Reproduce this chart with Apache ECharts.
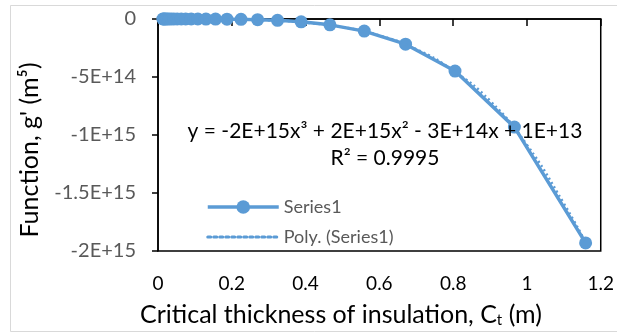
<!DOCTYPE html>
<html>
<head>
<meta charset="utf-8">
<script src="https://cdn.jsdelivr.net/npm/echarts@6/dist/echarts.min.js"></script>
<style>
html,body{margin:0;padding:0;background:#fff;}
#chart{width:617px;height:336px;}
</style>
</head>
<body>
<div id="chart"></div>
<script>
// Critical thickness of insulation, Ct (m)
var thickness = [0.013, 0.015, 0.018, 0.021, 0.025, 0.030, 0.036, 0.043, 0.052, 0.063, 0.075, 0.090, 0.108, 0.130, 0.156, 0.187, 0.225, 0.270, 0.324, 0.388, 0.466, 0.559, 0.671, 0.805, 0.966, 1.159];
// Function g' (m^5)
var gValues = [-3.1e7, -5.4e7, -1.1e8, -2.1e8, -4.2e8, -8.7e8, -1.8e9, -3.7e9, -7.8e9, -1.7e10, -3.4e10, -7.0e10, -1.46e11, -3.1e11, -6.3e11, -1.31e12, -2.7e12, -5.7e12, -1.18e13, -2.42e13, -5.05e13, -1.045e14, -2.17e14, -4.49e14, -9.32e14, -1.93e15];
// Polynomial trendline
var trendX = [0, 0.1, 0.2, 0.3, 0.4, 0.5, 0.6, 0.7, 0.8, 0.9, 1.0, 1.1, 1.159];
var trendY = [1e13, -2e12, -4e12, -1e13, -3.2e13, -7e13, -1.42e14, -2.6e14, -4.45e14, -7.05e14, -1.085e15, -1.59e15, -1.925e15];
var xTicks = [0, 0.2, 0.4, 0.6, 0.8, 1, 1.2];
var yTicks = [0, -5e14, -1e15, -1.5e15, -2e15];
var yTickLabels = ['0', '-5E+14', '-1E+15', '-1.5E+15', '-2E+15'];
var seriesNames = ['Series1', 'Poly. (Series1)'];

var FONT = 'Lato';
var blue = '#5B9BD5';

var chart = echarts.init(document.getElementById('chart'), null, {renderer: 'canvas'});
var option = {
  animation: false,
  backgroundColor: '#fff',
  grid: {left: 158, top: 19, right: 15, bottom: 85, show: true, borderColor: '#000', borderWidth: 1.5, containLabel: false},
  xAxis: [{
    type: 'value', min: 0, max: 1.2, interval: 0.2, position: 'bottom',
    axisLine: {show: false}, axisTick: {show: false}, splitLine: {show: false},
    axisLabel: {color: '#000', fontFamily: FONT, fontSize: 19, margin: 23,
      formatter: function (v) { var i = xTicks.indexOf(Math.round(v * 10) / 10); return i >= 0 ? String(xTicks[i]) : ''; }}
  }, {
    type: 'value', min: 0, max: 1.2, interval: 0.2, position: 'top',
    axisLine: {show: true, onZero: false, lineStyle: {color: '#000', width: 1.5}},
    axisTick: {show: true, inside: true, length: 7, lineStyle: {color: '#000', width: 1.5}},
    axisLabel: {show: false}, splitLine: {show: false}
  }],
  yAxis: {
    type: 'value', min: -2e15, max: 0, interval: 5e14,
    axisLine: {show: true, onZero: false, lineStyle: {color: '#000', width: 1.5}},
    axisTick: {show: true, length: 6, lineStyle: {color: '#000', width: 1.5}},
    splitLine: {show: false},
    axisLabel: {color: '#595959', fontFamily: FONT, fontSize: 20, margin: 22,
      formatter: function (v) { for (var i = 0; i < yTicks.length; i++) { if (Math.abs(yTicks[i] - v) < 1e10) return yTickLabels[i]; } return ''; }}
  },
  legend: {
    orient: 'vertical', left: 201, top: 193, itemWidth: 71, itemHeight: 17, itemGap: 12,
    textStyle: {color: '#595959', fontFamily: FONT, fontSize: 18},
    data: [
      {name: seriesNames[0], lineStyle: {width: 3.5}},
      {name: seriesNames[1], itemStyle: {color: 'rgba(0,0,0,0)', borderWidth: 0, opacity: 0}, lineStyle: {width: 3, type: [3, 3], cap: 'round'}}
    ]
  },
  series: [{
    name: seriesNames[0], type: 'line', xAxisIndex: 0,
    data: thickness.map(function (x, i) { return [x, gValues[i]]; }),
    symbol: 'circle', symbolSize: 13, showSymbol: true,
    itemStyle: {color: blue}, lineStyle: {color: blue, width: 3.5}, z: 2
  }, {
    name: seriesNames[1], type: 'line', xAxisIndex: 0,
    data: trendX.map(function (x, i) { return [x, trendY[i]]; }),
    smooth: true, showSymbol: false, symbol: 'none',
    itemStyle: {color: blue}, lineStyle: {color: blue, width: 2.5, type: [2, 3]}, z: 3
  }],
  graphic: [{
    type: 'rect', shape: {x: 10.5, y: 5.5, width: 640, height: 326}, style: {fill: 'none', stroke: '#d9d9d9', lineWidth: 1}, z: -1
  }, {
    type: 'text', x: 385, y: 131, style: {
      text: 'y = -2E+15x³ + 2E+15x² - 3E+14x + 1E+13', fill: '#000', font: '21px ' + FONT, align: 'center', verticalAlign: 'middle'}, z: 5
  }, {
    type: 'text', x: 385, y: 158, style: {
      text: 'R² = 0.9995', fill: '#000', font: '21px ' + FONT, align: 'center', verticalAlign: 'middle'}, z: 5
  }, {
    type: 'text', x: 341, y: 315, style: {
      text: 'Critical thickness of insulation, C{sub|t} (m)', fill: '#000', font: '25px ' + FONT, align: 'center', verticalAlign: 'middle',
      rich: {sub: {fontSize: 15, fontFamily: FONT, fill: '#000', verticalAlign: 'bottom', padding: [10, 0, 0, 0]}}}
  }, {
    type: 'text', x: 30, y: 150, rotation: Math.PI / 2, style: {
      text: "Function, g' (m⁵)", fill: '#000', font: '25px ' + FONT, align: 'center', verticalAlign: 'middle'}
  }]
};
chart.setOption(option);
</script>
</body>
</html>
